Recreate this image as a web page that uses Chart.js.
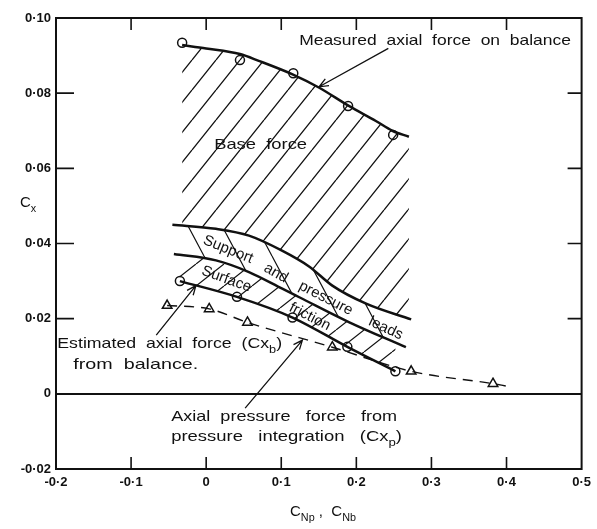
<!DOCTYPE html>
<html>
<head>
<meta charset="utf-8">
<script src="https://cdn.jsdelivr.net/npm/chart.js@4.4.0/dist/chart.umd.min.js"></script>
<style>
html,body{margin:0;padding:0;background:#fff;}
canvas{display:block;}
</style>
</head>
<body>
<canvas id="c" width="597" height="529"></canvas>
<script>
// ---------- data ----------
const xTickLabels = ['-0·2', '-0·1', '0', '0·1', '0·2', '0·3', '0·4', '0·5'];
const yTickLabels = ['-0·02', '0', '0·02', '0·04', '0·06', '0·08', '0·10'];

// measured axial force on balance (curve + circles)
const measuredCurveX = [-0.032, 0.0, 0.045, 0.070, 0.115, 0.150, 0.190, 0.226, 0.248, 0.270];
const measuredCurveY = [0.0928, 0.0919, 0.0904, 0.0886, 0.0850, 0.0815, 0.0766, 0.0726, 0.0700, 0.0684];
const measuredPtsX = [-0.032, 0.045, 0.116, 0.189, 0.249];
const measuredPtsY = [0.0934, 0.0888, 0.0853, 0.0766, 0.0689];

// upper edge of "support and pressure leads" band
const supportTopX = [-0.045, 0.013, 0.057, 0.101, 0.137, 0.168, 0.213, 0.273];
const supportTopY = [0.0450, 0.0439, 0.0421, 0.0381, 0.0339, 0.0288, 0.0240, 0.0198];

// boundary between support band and surface friction band
const frictionTopX = [-0.043, 0.013, 0.057, 0.102, 0.124, 0.190, 0.266];
const frictionTopY = [0.0372, 0.0355, 0.0324, 0.0279, 0.0257, 0.0191, 0.0124];

// estimated axial force from balance (Cx_b)
const cxbX = [-0.035, 0.041, 0.115, 0.188, 0.252];
const cxbY = [0.0300, 0.0258, 0.0203, 0.0125, 0.0060];

// axial pressure force from pressure integration (Cx_p)
const cxpPtsX = [-0.052, 0.004, 0.055, 0.168, 0.273, 0.382];
const cxpPtsY = [0.0235, 0.0226, 0.0190, 0.0124, 0.0060, 0.0027];
const cxpLineX = [-0.052, 0.004, 0.055, 0.168, 0.273, 0.382, 0.399];
const cxpLineY = [0.0235, 0.0226, 0.0190, 0.0124, 0.0060, 0.0027, 0.0021];

const pts = (xs, ys) => xs.map((x, i) => ({x: x, y: ys[i]}));

// ---------- hatch patterns ----------
function hatch(w, h, dir, lw) {
  const c = document.createElement('canvas');
  c.width = w; c.height = h;
  const g = c.getContext('2d');
  g.strokeStyle = '#111';
  g.lineWidth = lw;
  g.beginPath();
  for (const o of [-1, 0, 1]) {
    if (dir === '/') { g.moveTo(o * w, h); g.lineTo(o * w + w, 0); }
    else { g.moveTo(o * w, 0); g.lineTo(o * w + w, h); }
  }
  g.stroke();
  return g.createPattern(c, 'repeat');
}
const basePattern = hatch(24, 30, '/', 1.3);
const supportPattern = hatch(34, 64, '\\', 1.2);
const frictionPattern = hatch(28, 22, '/', 1.2);

const INK = '#111';
const FONT = '"Liberation Sans", "DejaVu Sans", sans-serif';

// ---------- annotations (data units) ----------
const texts = [
  {pieces: [{t: 'Measured  axial  force  on  balance'}], x0: 0.1238, x1: 0.4858, y: 0.0938},
  {pieces: [{t: 'Base  force'}], x0: 0.0106, x1: 0.1344, y: 0.0662},
  {pieces: [{t: 'Estimated  axial  force  (Cx'}, {t: 'b', sub: true}, {t: ')'}], x0: -0.1983, x1: 0.1011, y: 0.0132},
  {pieces: [{t: 'from  balance.'}], x0: -0.177, x1: -0.0106, y: 0.0077},
  {pieces: [{t: 'Axial  pressure   force   from'}], x0: -0.0466, x1: 0.2542, y: -0.0062},
  {pieces: [{t: 'pressure   integration   (Cx'}, {t: 'p', sub: true}, {t: ')'}], x0: -0.0466, x1: 0.2608, y: -0.0115}
];
const rotTexts = [
  {t: 'Support', x: 0.0293, y: 0.0384, a: 22},
  {t: 'and', x: 0.0928, y: 0.0321, a: 30},
  {t: 'pressure', x: 0.1593, y: 0.0254, a: 27},
  {t: 'leads', x: 0.2392, y: 0.0174, a: 25},
  {t: 'Surface', x: 0.0270, y: 0.0305, a: 20},
  {t: 'friction', x: 0.1380, y: 0.0205, a: 27}
];
const arrows = [
  {x0: 0.2426, y0: 0.0919, x1: 0.1504, y1: 0.0817},
  {x0: -0.0665, y0: 0.0156, x1: -0.0137, y1: 0.0288},
  {x0: 0.0519, y0: -0.0038, x1: 0.1282, y1: 0.0143}
];

function drawRich(ctx, pieces, x, y, size, fitW) {
  const sub = size * 0.72;
  let W = 0;
  const ws = pieces.map(p => {
    ctx.font = (p.sub ? sub : size) + 'px ' + FONT;
    const w = ctx.measureText(p.t).width;
    W += w;
    return w;
  });
  const sx = fitW ? fitW / W : 1;
  ctx.save();
  ctx.translate(x, y);
  ctx.scale(sx, 1);
  ctx.textAlign = 'left';
  ctx.textBaseline = 'middle';
  let cx = 0;
  pieces.forEach((p, i) => {
    ctx.font = (p.sub ? sub : size) + 'px ' + FONT;
    ctx.fillText(p.t, cx, p.sub ? size * 0.38 : 0);
    cx += ws[i];
  });
  ctx.restore();
}

const overlay = {
  id: 'overlay',
  afterDraw(chart) {
    const ctx = chart.ctx;
    const xs = chart.scales.x, ys = chart.scales.y;
    const a = chart.chartArea;
    ctx.save();
    ctx.strokeStyle = INK;
    ctx.fillStyle = INK;
    // frame
    ctx.lineWidth = 2;
    ctx.strokeRect(a.left, a.top, a.right - a.left, a.bottom - a.top);
    // inner ticks
    ctx.lineWidth = 1.6;
    ctx.beginPath();
    xs.ticks.forEach(t => {
      const px = xs.getPixelForValue(t.value);
      if (px <= a.left + 2 || px >= a.right - 2) return;
      ctx.moveTo(px, a.bottom); ctx.lineTo(px, a.bottom - 12);
      ctx.moveTo(px, a.top); ctx.lineTo(px, a.top + 12);
    });
    ys.ticks.forEach(t => {
      const py = ys.getPixelForValue(t.value);
      if (py <= a.top + 2 || py >= a.bottom - 2) return;
      ctx.moveTo(a.left, py); ctx.lineTo(a.left + 18, py);
      ctx.moveTo(a.right, py); ctx.lineTo(a.right - 14, py);
    });
    ctx.stroke();

    // arrows
    ctx.lineWidth = 1.3;
    arrows.forEach(ar => {
      const x0 = xs.getPixelForValue(ar.x0), y0 = ys.getPixelForValue(ar.y0);
      const x1 = xs.getPixelForValue(ar.x1), y1 = ys.getPixelForValue(ar.y1);
      const ang = Math.atan2(y1 - y0, x1 - x0);
      ctx.beginPath();
      ctx.moveTo(x0, y0); ctx.lineTo(x1, y1);
      const L = 10, s = 0.4;
      ctx.moveTo(x1 - L * Math.cos(ang - s), y1 - L * Math.sin(ang - s));
      ctx.lineTo(x1, y1);
      ctx.lineTo(x1 - L * Math.cos(ang + s), y1 - L * Math.sin(ang + s));
      ctx.stroke();
    });

    // straight texts
    texts.forEach(tx => {
      const x0 = xs.getPixelForValue(tx.x0), x1 = xs.getPixelForValue(tx.x1);
      drawRich(ctx, tx.pieces, x0, ys.getPixelForValue(tx.y), 15, x1 - x0);
    });
    // rotated texts
    ctx.font = '15px ' + FONT;
    ctx.textAlign = 'center';
    ctx.textBaseline = 'middle';
    rotTexts.forEach(r => {
      ctx.save();
      ctx.translate(xs.getPixelForValue(r.x), ys.getPixelForValue(r.y));
      ctx.rotate(r.a * Math.PI / 180);
      ctx.fillText(r.t, 0, 0);
      ctx.restore();
    });

    // axis titles
    drawRich(ctx, [{t: 'C'}, {t: 'Np', sub: true}, {t: ' ,  C'}, {t: 'Nb', sub: true}], 290, 512, 15, null);
    drawRich(ctx, [{t: 'C'}, {t: 'x', sub: true}], 20, 203, 15, null);
    ctx.restore();
  }
};

const curve = (data, extra) => Object.assign({
  data: data, borderColor: INK, borderWidth: 2.5, pointRadius: 0,
  tension: 0.4, cubicInterpolationMode: 'monotone', fill: false
}, extra);
const markers = (data, style, r) => ({
  data: data, showLine: false, pointStyle: style, pointRadius: r,
  pointBackgroundColor: '#fff', pointBorderColor: INK, pointBorderWidth: 1.5,
  borderColor: INK, backgroundColor: '#fff'
});

new Chart(document.getElementById('c'), {
  type: 'line',
  data: {
    datasets: [
      curve(pts(measuredCurveX, measuredCurveY), {fill: '+1', backgroundColor: basePattern}),
      curve(pts(supportTopX, supportTopY), {fill: '+1', backgroundColor: supportPattern}),
      curve(pts(frictionTopX, frictionTopY), {fill: '+1', backgroundColor: frictionPattern}),
      curve(pts(cxbX, cxbY)),
      curve(pts(cxpLineX, cxpLineY), {borderWidth: 1.4, borderDash: [10, 7]}),
      markers(pts(measuredPtsX, measuredPtsY), 'circle', 4.5),
      markers(pts(cxbX, cxbY), 'circle', 4.5),
      markers(pts(cxpPtsX, cxpPtsY), 'triangle', 5.5)
    ]
  },
  options: {
    responsive: false,
    animation: false,
    layout: {padding: {top: 18, right: 15, left: 0, bottom: 0}},
    plugins: {legend: {display: false}, tooltip: {enabled: false}, title: {display: false}},
    scales: {
      x: {
        type: 'linear', min: -0.2, max: 0.5,
        ticks: {stepSize: 0.1, callback: (v, i) => xTickLabels[i], padding: 6, color: INK,
                maxRotation: 0, autoSkip: false, font: {family: FONT, size: 13, weight: 'bold'}},
        grid: {display: false, drawTicks: false},
        border: {display: false},
        afterFit: s => { s.height = 60; }
      },
      y: {
        type: 'linear', min: -0.02, max: 0.10,
        ticks: {stepSize: 0.02, callback: (v, i) => yTickLabels[i], padding: 5, color: INK,
                autoSkip: false, font: {family: FONT, size: 13, weight: 'bold'}},
        grid: {drawTicks: false, color: c => (c.tick && Math.abs(c.tick.value) < 1e-9) ? INK : 'rgba(0,0,0,0)', lineWidth: 2},
        border: {display: false},
        afterFit: s => { s.width = 56; }
      }
    }
  },
  plugins: [overlay]
});
</script>
</body>
</html>
